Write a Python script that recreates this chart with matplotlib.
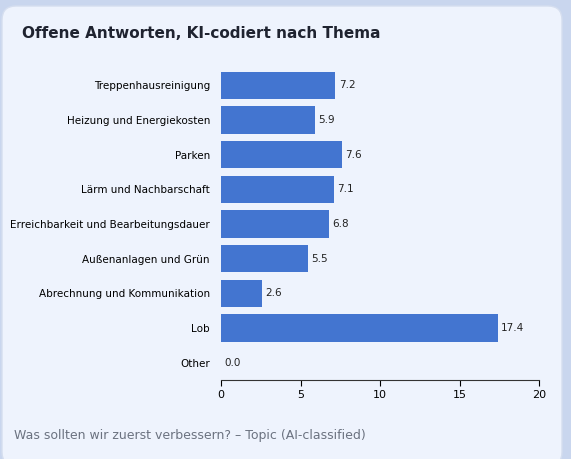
import matplotlib.pyplot as plt
from matplotlib.patches import FancyBboxPatch

categories = ["Treppenhausreinigung", "Heizung und Energiekosten", "Parken",
              "Lärm und Nachbarschaft", "Erreichbarkeit und Bearbeitungsdauer",
              "Außenanlagen und Grün", "Abrechnung und Kommunikation", "Lob", "Other"]
values = [7.2, 5.9, 7.6, 7.1, 6.8, 5.5, 2.6, 17.4, 0.0]
ticks = [0, 5, 10, 15, 20]

W, H = 571, 459
fig = plt.figure(figsize=(W/100, H/100), dpi=100)
fig.patch.set_facecolor("#c9d6ee")
bg = fig.add_axes([0, 0, 1, 1])
bg.set_xlim(0, W); bg.set_ylim(H, 0); bg.axis("off")
bg.add_patch(FancyBboxPatch((2, 6), 560, 460, boxstyle="round,pad=0,rounding_size=14",
                            fc="#eef3fd", ec="#d5deef", lw=1))
bg.text(22, 33, "Offene Antworten, KI-codiert nach Thema", fontsize=11, fontweight="bold",
        color="#1f2330", va="center")
bg.text(14, 435, "Was sollten wir zuerst verbessern? – Topic (AI-classified)", fontsize=9,
        color="#6b7280", va="center")

ax = fig.add_axes([221/W, 1-380/H, (539-221)/W, (380-68)/H])
ax.set_facecolor("none")
y = list(range(len(categories)))
ax.barh(y, values, height=0.78, color="#4375d0")
for yi, v in zip(y, values):
    ax.text(v + 0.2, yi, f"{v:.1f}", va="center", fontsize=7.5, color="#222")
ax.set_yticks(y); ax.set_yticklabels(categories, fontsize=7.5)
ax.set_ylim(len(categories) - 0.5, -0.5)
ax.set_xlim(0, 20); ax.set_xticks(ticks)
ax.tick_params(axis="x", labelsize=8, length=4)
ax.tick_params(axis="y", length=0, pad=8)
for s in ["top", "right", "left"]:
    ax.spines[s].set_visible(False)
ax.spines["bottom"].set_color("#333")
fig.savefig("out.png", dpi=100)
